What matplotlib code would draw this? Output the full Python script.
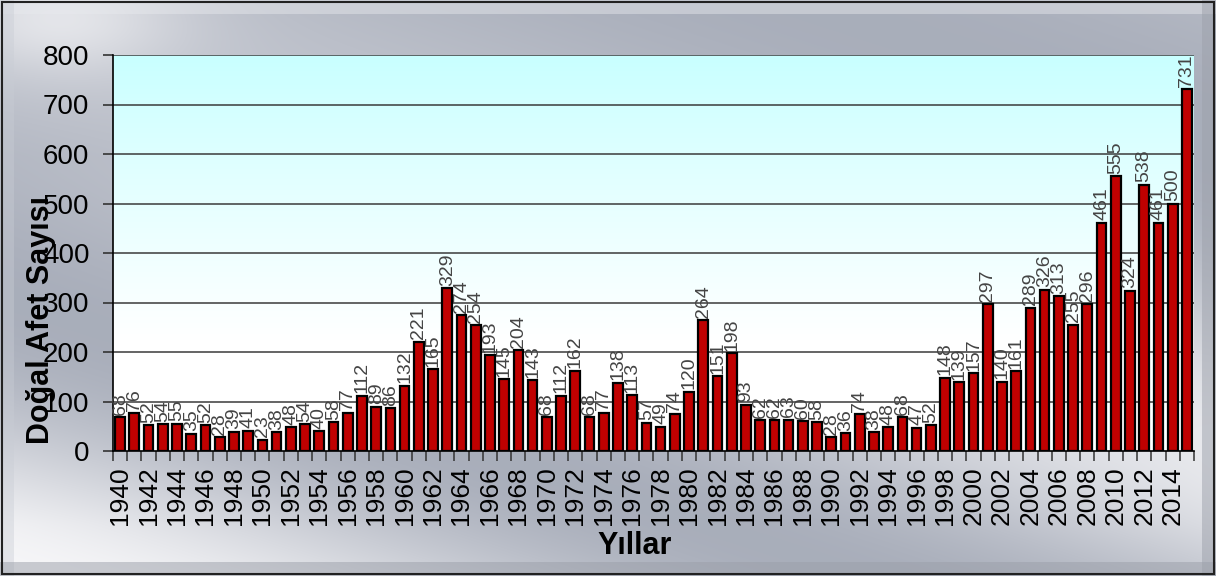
import numpy as np
import matplotlib
matplotlib.use("Agg")
import matplotlib.pyplot as plt
from matplotlib.patches import Rectangle
from matplotlib.colors import to_rgb

years = list(range(1940, 2016))
values = [68, 76, 52, 54, 55, 35, 52, 28, 39, 41,
          23, 38, 48, 54, 40, 58, 77, 112, 89, 86,
          132, 221, 165, 329, 274, 254, 193, 145, 204, 143,
          68, 112, 162, 68, 77, 138, 113, 57, 49, 74,
          120, 264, 151, 198, 93, 62, 62, 63, 60, 58,
          28, 36, 74, 38, 48, 68, 47, 52, 148, 139,
          157, 297, 140, 161, 289, 326, 313, 255, 296, 461,
          555, 324, 538, 461, 500, 731]
y_ticks = [0, 100, 200, 300, 400, 500, 600, 700, 800]
x_label = "Yıllar"
y_label = "Doğal Afet Sayısı"

plt.rcParams['font.family'] = ['Liberation Sans', 'DejaVu Sans']

W, H = 1216, 576
fig = plt.figure(figsize=(W / 100, H / 100), dpi=100)

# metallic background
bg = fig.add_axes([0, 0, 1, 1], zorder=-10)
bg.set_axis_off()
yy, xx = np.mgrid[0:H, 0:W]
xn = xx / W
yn = yy / H
dark = np.array(to_rgb('#8f96a6'))
light = np.array(to_rgb('#f6f6f8'))
w = 0.5 + 0.5 * np.cos((xn * 1.1 - yn * 1.6) * np.pi * 1.3 + 0.2)
w = 0.25 + 0.75 * (w * np.clip(yn * 1.1, 0.3, 1.0))
w = np.clip(w + 0.35 * np.exp(-((xn - 0.05) ** 2 / 0.01 + (yn - 0.03) ** 2 / 0.01)), 0, 1)
img = dark[None, None, :] * (1 - w[..., None]) + light[None, None, :] * w[..., None]
# bevel
b = 14
img[:b, :, :] = img[:b, :, :] * 0.55 + 0.45 * np.array(to_rgb('#e8eaee'))
img[:, :b, :] = img[:, :b, :] * 0.6 + 0.4 * np.array(to_rgb('#c8ccd4'))
img[-b:, :, :] = img[-b:, :, :] * 0.5 + 0.5 * np.array(to_rgb('#9a9ea8'))
img[:, -b:, :] = img[:, -b:, :] * 0.5 + 0.5 * np.array(to_rgb('#9ca0aa'))
bg.imshow(img, extent=[0, 1, 0, 1], aspect='auto', interpolation='bilinear')
bg.set_xlim(0, 1)
bg.set_ylim(0, 1)
bg.add_patch(Rectangle((0.002, 0.003), 0.996, 0.994, fill=False, ec='#222222', lw=1.5))

left, right, top, bottom = 113, 1194, 55, 451
ax = fig.add_axes([left / W, 1 - bottom / H, (right - left) / W, (bottom - top) / H])

x = np.arange(len(years))

# plot area gradient: cyan at top -> white at bottom
grad = np.linspace(0, 1, 256)[:, None]
c_top = np.array(to_rgb('#c8ffff'))
c_bot = np.array(to_rgb('#ffffff'))
t = np.clip(grad / 0.72, 0, 1) ** 0.9
gimg = c_top[None, None, :] * (1 - t[..., None]) + c_bot[None, None, :] * t[..., None]
ax.imshow(gimg, extent=[-0.5, len(years) - 0.5, 0, 800], origin='upper', aspect='auto',
          zorder=0, interpolation='bilinear')
ax.set_xlim(-0.5, len(years) - 0.5)
ax.set_ylim(0, 800)

for yt in y_ticks[1:]:
    ax.axhline(yt, color='#3a3a3a', lw=1.1, zorder=1)

ax.bar(x, values, width=0.68, color='#c00000', edgecolor='black', linewidth=1.6, zorder=3)

for xi, v in zip(x, values):
    ax.text(xi, v + 5, str(v), rotation=90, ha='center', va='bottom',
            fontsize=14, color='#444444', zorder=4)

for s in ['top', 'right']:
    ax.spines[s].set_visible(False)
ax.spines['left'].set_color('black')
ax.spines['left'].set_linewidth(1.2)
ax.spines['bottom'].set_color('black')
ax.spines['bottom'].set_linewidth(1.2)

ax.set_yticks(y_ticks)
ax.set_yticklabels([str(v) for v in y_ticks], fontsize=20)
ax.tick_params(axis='y', length=7, width=1.2, color='#333333', pad=10)

ax.set_xticks(x[::2])
ax.set_xticklabels([str(yv) for yv in years[::2]], rotation=90, fontsize=19)
ax.tick_params(axis='x', which='major', length=0, pad=11)
ax.set_xticks(np.arange(-0.5, len(years), 1.0), minor=True)
ax.tick_params(axis='x', which='minor', length=7, width=1.1, color='#333333')

ax.set_xlabel(x_label, fontsize=22, fontweight='bold')
ax.xaxis.set_label_coords(0.483, -0.24)
ax.set_ylabel(y_label, fontsize=22, fontweight='bold')
ax.yaxis.set_label_coords(-0.067, 0.33)
ax.yaxis.label.set_va('center')
ax.xaxis.label.set_va('center')

fig.savefig('out.png', dpi=100)
